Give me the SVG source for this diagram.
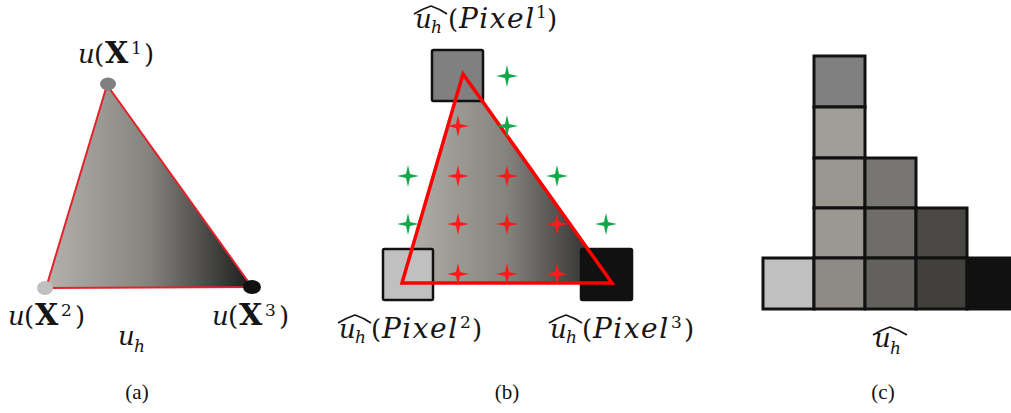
<svg xmlns="http://www.w3.org/2000/svg" width="1011" height="413" viewBox="0 0 1011 413">
<style>
.m{font-family:"DejaVu Serif","Liberation Serif",serif;font-size:26px;fill:#151515}
.i{font-style:italic}
.b{font-weight:bold;font-size:30px}
.s{font-size:17px}
.px{font-size:28px;letter-spacing:1.5px}
.hat{fill:none;stroke:#151515;stroke-width:1.6}
.cap{font-family:"Liberation Serif","DejaVu Serif",serif;font-size:21px;fill:#111}
.cell{stroke:#111;stroke-width:3}
.sq{stroke:#111;stroke-width:2.5}
</style>
<defs>
<linearGradient id="ga" gradientUnits="userSpaceOnUse" x1="46" y1="0" x2="252" y2="0">
<stop offset="0" stop-color="#b4b2ab"/><stop offset="0.5" stop-color="#85837e"/><stop offset="1" stop-color="#1c1c1c"/>
</linearGradient>
<linearGradient id="gb" gradientUnits="userSpaceOnUse" x1="402" y1="0" x2="612" y2="0">
<stop offset="0" stop-color="#b4b2ab"/><stop offset="0.5" stop-color="#85837e"/><stop offset="1" stop-color="#1c1c1c"/>
</linearGradient>
<path id="star" d="M0,-11 L2,-2 L11,0 L2,2 L0,11 L-2,2 L-11,0 L-2,-2 Z"/>
</defs>

<!-- Panel (a) -->
<g id="panel-a">
<g id="tri-a"><polygon points="107,85 46,288 252,287" fill="url(#ga)" stroke="#e3232b" stroke-width="2"/></g>
<g id="node-x1"><ellipse cx="108" cy="84" rx="8" ry="6.5" fill="#808080"/>
<text class="m" y="63"><tspan class="i" x="78">u</tspan><tspan x="94">(</tspan><tspan class="b" x="105">X</tspan><tspan class="s" x="131" y="54">1</tspan><tspan x="144" y="63">)</tspan></text></g>
<g id="node-x2"><ellipse cx="45" cy="288" rx="8" ry="7" fill="#c0c0c0"/>
<text class="m" y="325"><tspan class="i" x="8">u</tspan><tspan x="24">(</tspan><tspan class="b" x="35">X</tspan><tspan class="s" x="61" y="316">2</tspan><tspan x="75" y="325">)</tspan></text></g>
<g id="node-x3"><ellipse cx="252" cy="287" rx="9" ry="7" fill="#111"/>
<text class="m" y="325"><tspan class="i" x="212">u</tspan><tspan x="228">(</tspan><tspan class="b" x="239">X</tspan><tspan class="s" x="265" y="316">3</tspan><tspan x="279" y="325">)</tspan></text></g>
<g id="label-uh"><text class="m" y="345"><tspan class="i" x="118">u</tspan><tspan class="i s" x="134" y="352">h</tspan></text></g>
<text class="cap" x="137" y="399" text-anchor="middle">(a)</text>
</g>

<!-- Panel (b) -->
<g id="panel-b">
<g id="tri-b-fill"><polygon points="463,74 402,283 612,283" fill="url(#gb)"/></g>
<g id="pixel1"><rect class="sq" x="432" y="50" width="51" height="51" rx="1.5" fill="#808080"/>
<path class="hat" d="M414 14 Q422 9 431 6 Q440 9 447 14"/>
<text class="m" y="28"><tspan class="i" x="415">u</tspan><tspan class="i s" x="431" y="33">h</tspan><tspan x="448" y="28">(</tspan><tspan class="i px" x="459">Pixel</tspan><tspan class="s" x="536" y="18">1</tspan><tspan x="547" y="28">)</tspan></text></g>
<g id="pixel2"><rect class="sq" x="383" y="249" width="50" height="51" rx="1.5" fill="#c0c0c0"/>
<path class="hat" d="M338 323 Q346 318 355 315 Q364 318 371 323"/>
<text class="m" y="338"><tspan class="i" x="339">u</tspan><tspan class="i s" x="355" y="343">h</tspan><tspan x="371" y="338">(</tspan><tspan class="i px" x="382">Pixel</tspan><tspan class="s" x="460" y="328">2</tspan><tspan x="472" y="338">)</tspan></text></g>
<g id="pixel3"><rect class="sq" x="581" y="249" width="51" height="51" rx="1.5" fill="#111"/>
<path class="hat" d="M549 323 Q557 318 566 315 Q575 318 582 323"/>
<text class="m" y="338"><tspan class="i" x="550">u</tspan><tspan class="i s" x="566" y="343">h</tspan><tspan x="582" y="338">(</tspan><tspan class="i px" x="593">Pixel</tspan><tspan class="s" x="671" y="328">3</tspan><tspan x="684" y="338">)</tspan></text></g>
<g id="tri-b-edges"><polygon points="463,74 402,283 612,283" fill="none" stroke="#ff0000" stroke-width="3.5" stroke-linejoin="miter"/></g>
<g id="stars-in" fill="#ff1a1a">
<use href="#star" x="458" y="126"/>
<use href="#star" x="458" y="176"/><use href="#star" x="507" y="176"/>
<use href="#star" x="458" y="224"/><use href="#star" x="507" y="224"/><use href="#star" x="557" y="224"/>
<use href="#star" x="458" y="274"/><use href="#star" x="507" y="274"/><use href="#star" x="557" y="274"/>
</g>
<g id="stars-out" fill="#12a84a">
<use href="#star" x="507" y="76"/><use href="#star" x="507" y="126"/>
<use href="#star" x="408" y="176"/><use href="#star" x="557" y="176"/>
<use href="#star" x="408" y="224"/><use href="#star" x="606" y="224"/>
</g>
<text class="cap" x="507" y="399" text-anchor="middle">(b)</text>
</g>

<!-- Panel (c) -->
<g id="panel-c">
<g id="grid">
<rect class="cell" x="814" y="56" width="51" height="51" fill="#808080"/>
<rect class="cell" x="814" y="107" width="51" height="51" fill="#a09e99"/>
<rect class="cell" x="814" y="158" width="51" height="50" fill="#99968f"/>
<rect class="cell" x="814" y="208" width="51" height="50" fill="#9b9892"/>
<rect class="cell" x="865" y="158" width="51" height="50" fill="#777672"/>
<rect class="cell" x="865" y="208" width="51" height="50" fill="#6e6d69"/>
<rect class="cell" x="916" y="208" width="51" height="50" fill="#4a4844"/>
<rect class="cell" x="763" y="258" width="51" height="51" fill="#c0c0c0"/>
<rect class="cell" x="814" y="258" width="51" height="51" fill="#8e8b85"/>
<rect class="cell" x="865" y="258" width="51" height="51" fill="#62615d"/>
<rect class="cell" x="916" y="258" width="51" height="51" fill="#42403c"/>
<rect class="cell" x="967" y="258" width="51" height="51" fill="#111"/>
</g>
<g id="label-uhat">
<path class="hat" d="M873 335 Q881 330 890 327 Q899 330 907 335"/>
<text class="m" y="347"><tspan class="i" x="874">u</tspan><tspan class="i s" x="890" y="354">h</tspan></text></g>
<text class="cap" x="883" y="399" text-anchor="middle">(c)</text>
</g>
</svg>
